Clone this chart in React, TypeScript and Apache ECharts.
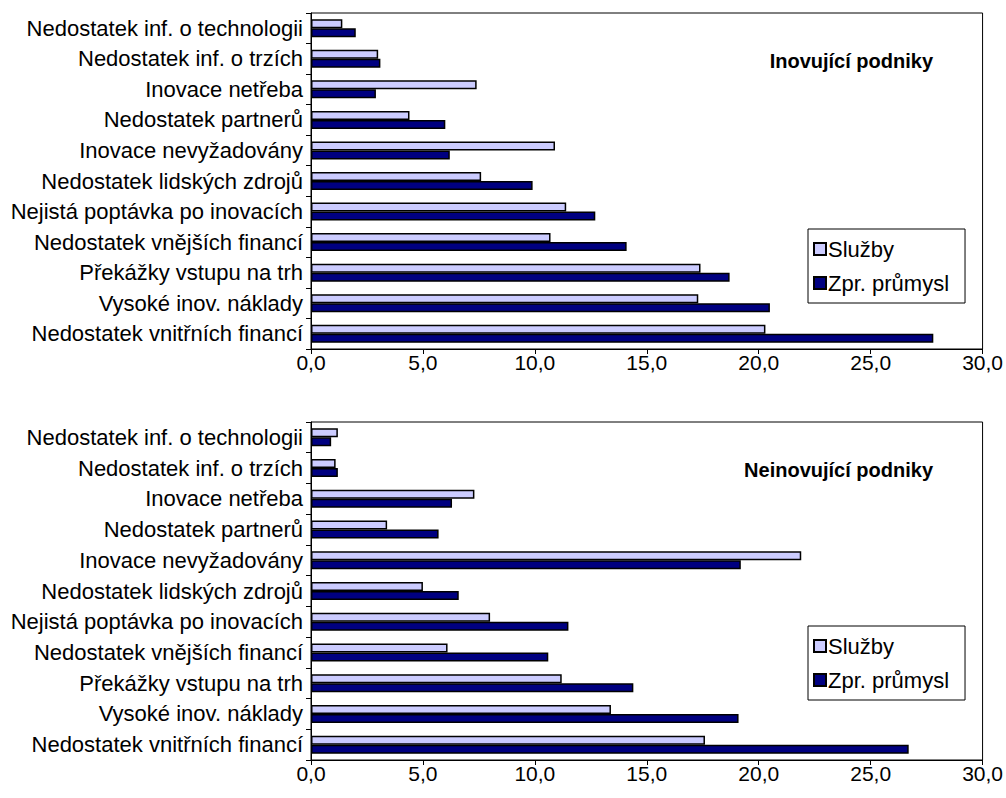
import React, { useEffect, useRef } from "react";
import * as echarts from "echarts";

const categories = [
  "Nedostatek vnitřních financí",
  "Vysoké inov. náklady",
  "Překážky vstupu na trh",
  "Nedostatek vnějších financí",
  "Nejistá poptávka po inovacích",
  "Nedostatek lidských zdrojů",
  "Inovace nevyžadovány",
  "Nedostatek partnerů",
  "Inovace netřeba",
  "Nedostatek inf. o trzích",
  "Nedostatek inf. o technologii",
];

const seriesNames = ["Služby", "Zpr. průmysl"];
const panelTitles = ["Inovující podniky", "Neinovující podniky"];

const innovSluzby = [20.3, 17.3, 17.4, 10.7, 11.4, 7.6, 10.9, 4.4, 7.4, 3.0, 1.4];
const innovPrumysl = [27.8, 20.5, 18.7, 14.1, 12.7, 9.9, 6.2, 6.0, 2.9, 3.1, 2.0];
const nonInnovSluzby = [17.6, 13.4, 11.2, 6.1, 8.0, 5.0, 21.9, 3.4, 7.3, 1.1, 1.2];
const nonInnovPrumysl = [26.7, 19.1, 14.4, 10.6, 11.5, 6.6, 19.2, 5.7, 6.3, 1.2, 0.9];

const xTicks = { min: 0, max: 30, interval: 5 };

export default function App() {
  const ref = useRef<HTMLDivElement>(null);
  useEffect(() => {
    if (!ref.current) return;
    const chart = echarts.init(ref.current, undefined, { renderer: "svg" });
    const font = "'Liberation Sans', Arial, sans-serif";
    const grids = [
      { left: 311, top: 13, width: 672, height: 336 },
      { left: 311, top: 422, width: 672, height: 338 },
    ];
    const xAxes = grids.map((_, i) => ({
      type: "value",
      gridIndex: i,
      min: xTicks.min,
      max: xTicks.max,
      interval: xTicks.interval,
      axisLine: { show: true, lineStyle: { color: "#000", width: 1 } },
      axisTick: { show: true, length: 5, lineStyle: { color: "#000" } },
      splitLine: { show: false },
      axisLabel: {
        color: "#000",
        fontSize: 21,
        fontFamily: font,
        margin: 3,
        formatter: (v: number) => v.toFixed(1).replace(".", ","),
      },
    }));
    const yAxes = grids.map((_, i) => ({
      type: "category",
      gridIndex: i,
      data: categories,
      axisLine: { show: true, lineStyle: { color: "#000", width: 1 } },
      axisTick: { show: true, length: 5, lineStyle: { color: "#000" } },
      axisLabel: { color: "#000", fontSize: 22, fontFamily: font, margin: 8 },
    }));
    const barBase = {
      type: "bar",
      barWidth: 9,
      barGap: "0%",
    };
    const data = [
      [innovSluzby, innovPrumysl],
      [nonInnovSluzby, nonInnovPrumysl],
    ];
    const colors = ["#CCCCFF", "#000080"];
    const series: any[] = [];
    data.forEach((pair, i) => {
      pair.forEach((vals, s) => {
        series.push({
          ...barBase,
          name: seriesNames[s],
          xAxisIndex: i,
          yAxisIndex: i,
          data: vals,
          itemStyle: { color: colors[s], borderColor: "#000", borderWidth: 1.5 },
        });
      });
    });
    const legendTops = [229, 626];
    chart.setOption({
      animation: false,
      backgroundColor: "#fff",
      grid: grids.map((g) => ({ ...g, show: true, borderColor: "#000", borderWidth: 1, backgroundColor: "#fff" })),
      xAxis: xAxes,
      yAxis: yAxes,
      title: panelTitles.map((t, i) => ({
        text: t,
        right: 68,
        top: i === 0 ? 46 : 455,
        textStyle: { fontSize: 20, fontWeight: "bold", color: "#000", fontFamily: font },
      })),
      legend: legendTops.map((top) => ({
        data: seriesNames,
        orient: "vertical",
        left: 808,
        top,
        itemWidth: 12,
        itemHeight: 12,
        itemGap: 12,
        padding: [9, 16, 9, 5],
        backgroundColor: "#fff",
        borderColor: "#000",
        borderWidth: 1,
        borderRadius: 0,
        icon: "rect",
        textStyle: { fontSize: 22, color: "#000", fontFamily: font, padding: [0, 0, 0, -3] },
      })),
      series,
    });
    return () => chart.dispose();
  }, []);
  return (
    <div
      ref={ref}
      style={{ position: "fixed", left: 0, top: 0, width: 1006, height: 798 }}
    />
  );
}
